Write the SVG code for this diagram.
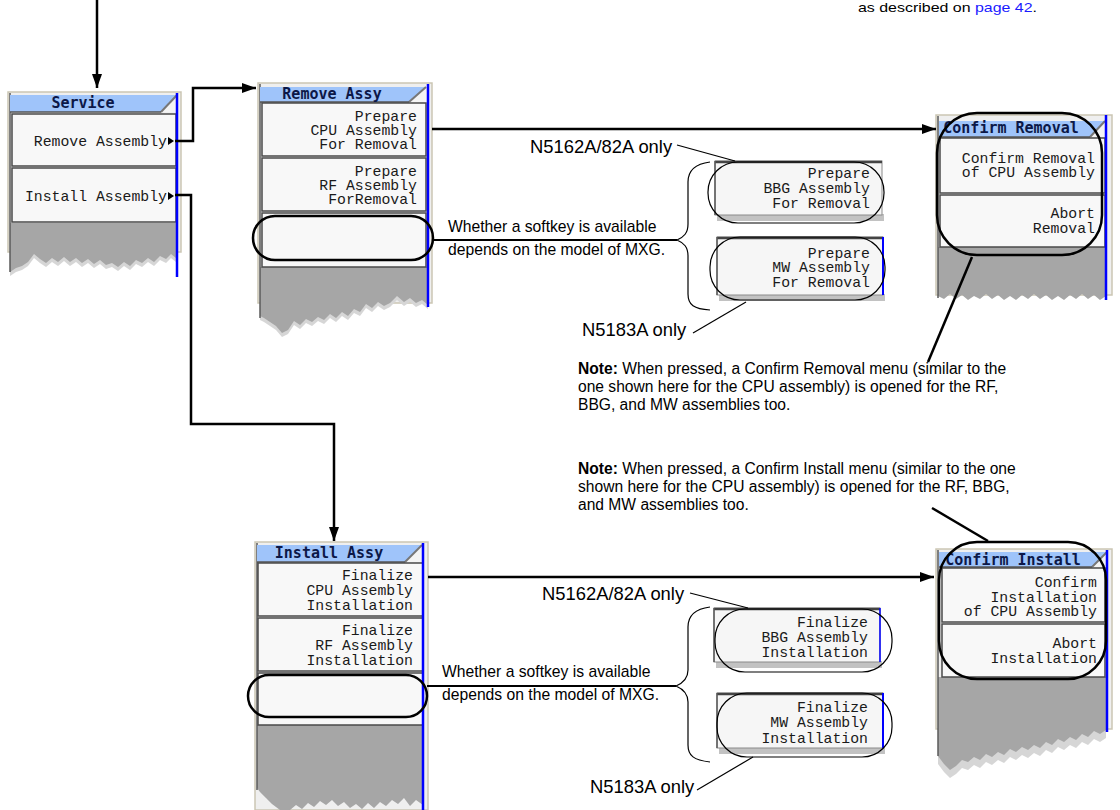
<svg xmlns="http://www.w3.org/2000/svg" width="1120" height="810" viewBox="0 0 1120 810">
<defs>
<style>
.mono{font-family:"Liberation Mono","DejaVu Sans Mono",monospace;font-size:14.8px;fill:#1a1a1a}
.ttl{font-family:"DejaVu Sans Mono","Liberation Mono",monospace;font-size:15px;font-weight:bold;fill:#0c1848}
.sans{font-family:"Liberation Sans",Arial,sans-serif;fill:#000}
.frame{fill:#efefef;stroke:#cbc6b4;stroke-width:1.5}
.tbar{fill:#9fc4fa}
.tline{stroke:#555;stroke-width:1.5;fill:none}
.diag{stroke:#777;stroke-width:2;fill:none}
.key{fill:#f8f8f8;stroke:#4a4a4a;stroke-width:1.5}
.gray{fill:#a6a6a6}
.shadow{fill:#d6d6d6}
.lborder{stroke:#5a5a5a;stroke-width:1.5}
.blue{stroke:#0000ff;stroke-width:2.5}
.hl{fill:none;stroke:#000;stroke-width:2.5}
.thin{fill:none;stroke:#000;stroke-width:1.2}
.conn{fill:none;stroke:#000;stroke-width:2.5}
.conn2{fill:none;stroke:#000;stroke-width:2}
.pop{fill:#f6f6f6;stroke:#8a8a8a;stroke-width:1}
.poptop{stroke:#444;stroke-width:2.5}
.popsh{fill:#9a9a9a;opacity:0.6}
</style>
<marker id="ah" markerUnits="userSpaceOnUse" markerWidth="14" markerHeight="10" refX="14" refY="5" orient="auto">
<path d="M0,0 L14,5 L0,10 Z" fill="#000"/>
</marker>
</defs>
<rect width="1120" height="810" fill="#fff"/>

<!-- top-right text -->
<text class="sans" x="858" y="12" font-size="13.5" textLength="179" lengthAdjust="spacingAndGlyphs">as described on <tspan fill="#1a1aff">page 42</tspan>.</text>

<!-- Service menu -->
<g id="service-menu">
<rect class="frame" x="8" y="92" width="173" height="160"/>
<path class="shadow" d="M10,227 H176 V262 L171,258 L166,263 L160,260 L154,266 L148,262 L142,267 L136,264 L130,270 L124,266 L118,271 L112,267 L106,269 L100,264 L94,268 L88,263 L82,267 L76,262 L70,266 L64,261 L58,266 L52,262 L46,267 L40,263 L34,258 L28,266 L22,270 L16,272 L10,276 Z"/>
<path class="gray" d="M10,223 H176 V258 L171,254 L166,259 L160,256 L154,262 L148,258 L142,263 L136,260 L130,266 L124,262 L118,267 L112,263 L106,265 L100,260 L94,264 L88,259 L82,263 L76,258 L70,262 L64,257 L58,262 L52,258 L46,263 L40,259 L34,254 L28,262 L22,266 L16,268 L10,272 Z"/>
<line class="lborder" x1="10" y1="93" x2="10" y2="272"/>
<path class="tbar" d="M10,95 H177 L161,112 H10 Z"/>
<path fill="#f4f4f4" d="M177,95 V112 H161 Z"/>
<path class="diag" d="M161,112 L177,95"/>
<line class="tline" x1="10" y1="112" x2="161" y2="112"/>
<text class="ttl" x="83" y="108" text-anchor="middle">Service</text>
<rect class="key" x="12" y="114" width="164" height="52"/>
<rect class="key" x="12" y="168" width="164" height="54"/>
<text class="mono" x="167" y="146" text-anchor="end">Remove Assembly</text>
<path d="M168,137 L174,141 L168,145 Z" fill="#000"/>
<text class="mono" x="167" y="201" text-anchor="end">Install Assembly</text>
<path d="M168,192 L174,196 L168,200 Z" fill="#000"/>
<line class="blue" x1="177" y1="93" x2="177" y2="277"/>
</g>

<!-- Remove Assy menu -->
<g id="remove-assy-menu">
<rect class="frame" x="258" y="83" width="174" height="220"/>
<path class="shadow" d="M260,271 H428 V309 L422,304 L416,307 L410,302 L404,306 L397,300 L390,307 L384,310 L378,306 L372,312 L366,308 L360,316 L354,313 L348,320 L342,316 L336,322 L330,318 L324,324 L318,321 L312,326 L306,323 L300,329 L294,325 L288,334 L282,337 L276,330 L270,326 L264,322 L260,320 Z"/>
<path class="gray" d="M260,267 H428 V305 L422,300 L416,303 L410,298 L404,302 L397,296 L390,303 L384,306 L378,302 L372,308 L366,304 L360,312 L354,309 L348,316 L342,312 L336,318 L330,314 L324,320 L318,317 L312,322 L306,319 L300,325 L294,321 L288,330 L282,333 L276,326 L270,322 L264,318 L260,316 Z"/>
<line class="lborder" x1="260" y1="84" x2="260" y2="318"/>
<path class="tbar" d="M260,87 H426 L409,102 H260 Z"/>
<path fill="#f4f4f4" d="M426,87 V102 H409 Z"/>
<path class="diag" d="M409,102 L426,87"/>
<line class="tline" x1="260" y1="102" x2="409" y2="102"/>
<text class="ttl" x="332" y="99" text-anchor="middle">Remove Assy</text>
<rect class="key" x="262" y="103" width="164" height="53"/>
<rect class="key" x="262" y="158" width="164" height="53"/>
<rect class="key" x="262" y="213" width="164" height="54"/>
<text class="mono" text-anchor="end"><tspan x="417" y="121">Prepare</tspan><tspan x="417" y="135">CPU Assembly</tspan><tspan x="417" y="149">For Removal</tspan></text>
<text class="mono" text-anchor="end"><tspan x="417" y="176">Prepare</tspan><tspan x="417" y="190">RF Assembly</tspan><tspan x="417" y="204">ForRemoval</tspan></text>
<line class="blue" x1="428" y1="84" x2="428" y2="307"/>
<rect class="hl" x="253" y="216" width="180" height="44" rx="22"/>
</g>

<!-- Install Assy menu -->
<g id="install-assy-menu">
<rect class="frame" x="255" y="542" width="173" height="268"/>
<path class="gray" d="M257,725 H423 V805 L416,800 L410,806 L404,798 L398,804 L392,800 L386,806 L380,802 L374,808 L368,803 L362,809 L356,804 L350,808 L344,802 L338,806 L332,800 L326,805 L320,801 L314,807 L308,803 L302,809 L296,805 L290,810 L280,810 L272,804 L266,798 L260,792 L257,788 Z"/>
<line class="lborder" x1="257" y1="543" x2="257" y2="790"/>
<path class="tbar" d="M257,545 H422 L405,562 H257 Z"/>
<path fill="#f4f4f4" d="M422,545 V562 H405 Z"/>
<path class="diag" d="M405,562 L422,545"/>
<line class="tline" x1="257" y1="562" x2="405" y2="562"/>
<text class="ttl" x="329" y="558" text-anchor="middle">Install Assy</text>
<rect class="key" x="258" y="563" width="165" height="53"/>
<rect class="key" x="258" y="618" width="165" height="53"/>
<rect class="key" x="258" y="673" width="165" height="52"/>
<text class="mono" text-anchor="end"><tspan x="413" y="580">Finalize</tspan><tspan x="413" y="595">CPU Assembly</tspan><tspan x="413" y="610">Installation</tspan></text>
<text class="mono" text-anchor="end"><tspan x="413" y="635">Finalize</tspan><tspan x="413" y="650">RF Assembly</tspan><tspan x="413" y="665">Installation</tspan></text>
<line class="blue" x1="423" y1="543" x2="423" y2="810"/>
<rect class="hl" x="248" y="675" width="179" height="42" rx="21"/>
</g>

<!-- Confirm Removal menu -->
<g id="confirm-removal-menu">
<rect class="frame" x="936" y="115" width="176" height="180"/>
<path class="gray" d="M938,247 H1106 V296 L1100,300 L1094,295 L1088,299 L1082,294 L1076,299 L1070,295 L1064,300 L1058,296 L1052,300 L1046,295 L1040,299 L1034,294 L1028,299 L1022,295 L1016,300 L1010,296 L1004,300 L998,295 L992,299 L986,294 L980,299 L974,296 L968,300 L962,295 L956,299 L950,294 L944,299 L938,296 Z"/>
<line class="lborder" x1="938" y1="116" x2="938" y2="298"/>
<path class="tbar" d="M939,121 H1105 L1090,137 H939 Z"/>
<path fill="#f4f4f4" d="M1105,121 V137 H1090 Z"/>
<path class="diag" d="M1090,137 L1105,121"/>
<line class="tline" x1="939" y1="137" x2="1090" y2="137"/>
<text class="ttl" x="1011" y="133" text-anchor="middle">Confirm Removal</text>
<rect class="key" x="940" y="138" width="165" height="55"/>
<rect class="key" x="940" y="195" width="165" height="52"/>
<text class="mono" text-anchor="end"><tspan x="1095" y="163">Confirm Removal</tspan><tspan x="1095" y="177">of CPU Assembly</tspan></text>
<text class="mono" text-anchor="end"><tspan x="1095" y="218">Abort</tspan><tspan x="1095" y="233">Removal</tspan></text>
<line class="blue" x1="1106" y1="115" x2="1106" y2="300"/>
<rect class="hl" x="937" y="113" width="165" height="142" rx="40"/>
</g>

<!-- Confirm Install menu -->
<g id="confirm-install-menu">
<rect class="frame" x="936" y="549" width="176" height="180"/>
<path class="shadow" d="M938,683 H1106 V738 L1100,742 L1094,739 L1088,745 L1082,742 L1076,748 L1070,745 L1064,750 L1058,747 L1052,753 L1046,750 L1040,756 L1034,753 L1028,758 L1022,755 L1016,760 L1010,757 L1004,763 L998,760 L992,765 L986,762 L980,768 L974,765 L968,770 L962,768 L956,774 L950,778 L944,772 L938,764 Z"/>
<path class="gray" d="M938,677 H1106 V730 L1100,734 L1094,731 L1088,737 L1082,734 L1076,740 L1070,737 L1064,742 L1058,739 L1052,745 L1046,742 L1040,748 L1034,745 L1028,750 L1022,747 L1016,752 L1010,749 L1004,755 L998,752 L992,757 L986,754 L980,760 L974,757 L968,762 L962,760 L956,766 L950,770 L944,764 L938,756 Z"/>
<line class="lborder" x1="938" y1="550" x2="938" y2="756"/>
<path class="tbar" d="M939,552 H1107 L1092,567 H939 Z"/>
<path fill="#f4f4f4" d="M1107,552 V567 H1092 Z"/>
<path class="diag" d="M1092,567 L1107,552"/>
<line class="tline" x1="939" y1="567" x2="1092" y2="567"/>
<text class="ttl" x="1013" y="565" text-anchor="middle">Confirm Install</text>
<rect class="key" x="942" y="568" width="163" height="54"/>
<rect class="key" x="942" y="624" width="163" height="53"/>
<text class="mono" text-anchor="end"><tspan x="1097" y="587">Confirm</tspan><tspan x="1097" y="602">Installation</tspan><tspan x="1097" y="616">of CPU Assembly</tspan></text>
<text class="mono" text-anchor="end"><tspan x="1097" y="648">Abort</tspan><tspan x="1097" y="663">Installation</tspan></text>
<line class="blue" x1="1107" y1="550" x2="1107" y2="732"/>
<rect class="hl" x="939" y="542" width="167" height="137" rx="38"/>
</g>

<!-- Optional softkeys (removal) -->
<g id="prepare-bbg">
<rect class="popsh" x="717" y="214" width="167" height="7"/>
<rect class="pop" x="715" y="161" width="167" height="54"/>
<line class="poptop" x1="715" y1="162" x2="882" y2="162"/>
<line class="lborder" x1="715" y1="161" x2="715" y2="215"/>
<text class="mono" text-anchor="end"><tspan x="870" y="178">Prepare</tspan><tspan x="870" y="193">BBG Assembly</tspan><tspan x="870" y="208">For Removal</tspan></text>
<rect class="thin" x="708" y="162" width="176" height="61" rx="30"/>
</g>
<g id="prepare-mw">
<rect class="popsh" x="719" y="294" width="166" height="7"/>
<rect class="pop" x="717" y="237" width="166" height="58"/>
<line class="poptop" x1="717" y1="238" x2="883" y2="238"/>
<line class="lborder" x1="717" y1="237" x2="717" y2="295"/>
<line stroke="#0000ff" stroke-width="2" x1="883" y1="237" x2="883" y2="295"/>
<text class="mono" text-anchor="end"><tspan x="870" y="258">Prepare</tspan><tspan x="870" y="272">MW Assembly</tspan><tspan x="870" y="287">For Removal</tspan></text>
<rect class="thin" x="710" y="237" width="175" height="63" rx="30"/>
</g>

<!-- Optional softkeys (install) -->
<g id="finalize-bbg">
<rect class="popsh" x="716" y="661" width="166" height="7"/>
<rect class="pop" x="714" y="608" width="166" height="54"/>
<line class="poptop" x1="714" y1="609" x2="880" y2="609"/>
<line class="lborder" x1="714" y1="608" x2="714" y2="662"/>
<line stroke="#0000ff" stroke-width="1.5" x1="880" y1="608" x2="880" y2="662"/>
<text class="mono" text-anchor="end"><tspan x="868" y="627">Finalize</tspan><tspan x="868" y="642">BBG Assembly</tspan><tspan x="868" y="657">Installation</tspan></text>
<rect class="thin" x="715" y="609" width="177" height="63" rx="30"/>
</g>
<g id="finalize-mw">
<rect class="popsh" x="719" y="747" width="166" height="7"/>
<rect class="pop" x="717" y="693" width="166" height="55"/>
<line class="poptop" x1="717" y1="694" x2="883" y2="694"/>
<line class="lborder" x1="717" y1="693" x2="717" y2="748"/>
<line stroke="#0000ff" stroke-width="2" x1="883" y1="693" x2="883" y2="748"/>
<text class="mono" text-anchor="end"><tspan x="868" y="712">Finalize</tspan><tspan x="868" y="727">MW Assembly</tspan><tspan x="868" y="743">Installation</tspan></text>
<rect class="thin" x="717" y="693" width="175" height="64" rx="30"/>
</g>

<!-- Labels -->
<g id="labels">
<text class="sans" x="530" y="153" font-size="18.4">N5162A/82A only</text>
<text class="sans" x="582" y="336" font-size="18.4">N5183A only</text>
<text class="sans" x="542" y="600" font-size="18.4">N5162A/82A only</text>
<text class="sans" x="590" y="793" font-size="18.4">N5183A only</text>
<text class="sans" x="448" y="232" font-size="15.7">Whether a softkey is available</text>
<text class="sans" x="448" y="255" font-size="15.7">depends on the model of MXG.</text>
<text class="sans" x="442" y="677" font-size="15.7">Whether a softkey is available</text>
<text class="sans" x="442" y="700" font-size="15.7">depends on the model of MXG.</text>
<text class="sans" font-size="15.6"><tspan x="578" y="374"><tspan font-weight="bold">Note:</tspan> When pressed, a Confirm Removal menu (similar to the</tspan><tspan x="578" y="392">one shown here for the CPU assembly) is opened for the RF,</tspan><tspan x="578" y="410">BBG, and MW assemblies too.</tspan></text>
<text class="sans" font-size="15.6"><tspan x="578" y="474"><tspan font-weight="bold">Note:</tspan> When pressed, a Confirm Install menu (similar to the one</tspan><tspan x="578" y="492">shown here for the CPU assembly) is opened for the RF, BBG,</tspan><tspan x="578" y="510">and MW assemblies too.</tspan></text>
</g>

<!-- Connectors -->
<g id="connectors">
<path class="conn" d="M97,0 V88" marker-end="url(#ah)"/>
<path class="conn" d="M175,141 H193 V88 H256" marker-end="url(#ah)"/>
<path class="conn" d="M175,195 H191 V424 H334 V541" marker-end="url(#ah)"/>
<path class="conn" d="M432,129 H936" marker-end="url(#ah)"/>
<path class="conn" d="M428,577 H934" marker-end="url(#ah)"/>
<path class="conn2" d="M433,240 H677"/>
<path class="conn2" d="M427,686 H676"/>
<path class="thin" d="M710,162 C694,164 688,171 688,182 L688,224 C688,233 684,237 677,240 C684,243 688,247 688,256 L688,294 C688,305 694,309 710,310"/>
<path class="thin" d="M710,607 C694,609 688,616 688,627 L688,670 C688,679 683,683 676,686 C683,689 688,693 688,702 L688,745 C688,756 694,760 710,762"/>
<path class="thin" d="M677,145 L735,161"/>
<path class="thin" d="M693,333 L746,302"/>
<path class="thin" d="M690,593 L748,608"/>
<path class="thin" d="M697,790 L753,757"/>
<path class="conn" d="M972,257 L928,362"/>
<path class="conn" d="M932,508 L988,541"/>
</g>
</svg>
